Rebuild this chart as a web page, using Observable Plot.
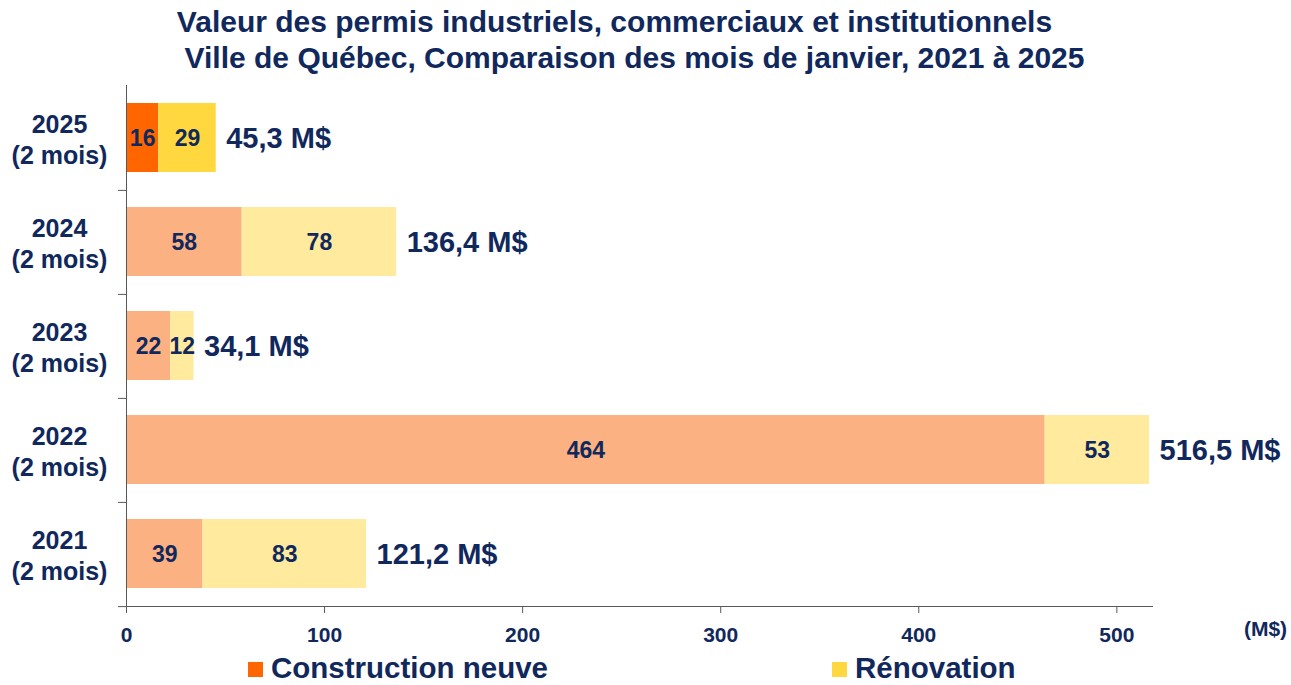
<!DOCTYPE html>
<html>
<head>
<meta charset="utf-8">
<script src="https://cdn.jsdelivr.net/npm/d3@7"></script>
<script src="https://cdn.jsdelivr.net/npm/@observablehq/plot@0.6"></script>
<style>
  html, body { margin: 0; padding: 0; background: #fff; }
  body { width: 1291px; height: 685px; overflow: hidden; font-family: "Liberation Sans", Arial, sans-serif; color: #10285c; }
  #title { height: 80px; padding-top: 4px; box-sizing: border-box; font-weight: bold; font-size: 30px; line-height: 36px; }
  #title div { text-align: center; white-space: nowrap; position: relative; }
  #legend { position: relative; height: 34px; font-weight: bold; font-size: 29.5px; }
  .item { position: absolute; top: 0; line-height: 34px; white-space: nowrap; }
  .sw { display: inline-block; width: 15px; height: 15px; margin-right: 8px; vertical-align: 1px; }
  #chart svg { display: block; }
</style>
</head>
<body>
<div id="title">
  <div style="left:-31px">Valeur des permis industriels, commerciaux et institutionnels</div>
  <div style="left:-11px">Ville de Québec, Comparaison des mois de janvier, 2021 à 2025</div>
</div>
<div id="chart"></div>
<div id="legend"></div>
<script>
// Data
const years = ["2021", "2022", "2023", "2024", "2025"];
const construction = [38.6, 463.8, 22.3, 58.4, 16.3];
const renovation = [82.6, 52.7, 11.8, 78.0, 29.0];
const seriesNames = ["Construction neuve", "Rénovation"];
const xTicks = [0, 100, 200, 300, 400, 500];
const yearSuffix = "(2 mois)";
const unitLabel = "(M$)";

// Styling
const navy = "#10285c";
const strongColors = {"Construction neuve": "#ff6600", "Rénovation": "#ffd83f"};
const lightColors = {"Construction neuve": "#fbb181", "Rénovation": "#ffea9e"};
const highlightYear = "2025";
const axisColor = "#595959";

const rows = years.flatMap((y, i) => [
  {year: y, type: seriesNames[0], value: construction[i]},
  {year: y, type: seriesNames[1], value: renovation[i]}
]);
const totals = years.map((y, i) => ({year: y, total: Math.round((construction[i] + renovation[i]) * 10) / 10}));
const fmt = v => v.toFixed(1).replace(".", ",") + " M$";

const W = 1291, H = 571, mT = 5, mB = 45, mL = 126, mR = 139;
const bw = (H - mT - mB) / years.length;

const chart = Plot.plot({
  width: W, height: H,
  marginTop: mT, marginBottom: mB, marginLeft: mL, marginRight: mR,
  style: {fontFamily: "'Liberation Sans', Arial, sans-serif", color: navy, background: "#fff"},
  x: {domain: [0, 518]},
  y: {domain: [...years].reverse(), padding: 0},
  color: {type: "identity"},
  marks: [
    Plot.barX(rows, Plot.stackX({
      x: "value", y: "year",
      fill: d => (d.year === highlightYear ? strongColors : lightColors)[d.type],
      insetTop: 17, insetBottom: 18
    })),
    Plot.text(rows, Plot.stackX({
      x: "value", y: "year", z: "type",
      text: d => String(Math.round(d.value)),
      fill: navy, fontSize: 23, fontWeight: "bold"
    })),
    Plot.text(totals, {
      x: "total", y: "year", text: d => fmt(d.total),
      textAnchor: "start", dx: 10, fill: navy, fontSize: 29, fontWeight: "bold"
    }),
    Plot.text(years, {
      y: d => d, frameAnchor: "left", dx: -67,
      text: d => d + "\n" + yearSuffix,
      textAnchor: "middle", lineHeight: 1.24,
      fill: navy, fontSize: 25, fontWeight: "bold"
    }),
    Plot.axisX({
      ticks: xTicks, tickSize: 7, tickPadding: 14,
      stroke: axisColor, fill: navy, fontSize: 21, fontWeight: "bold", label: null
    }),
    Plot.axisY({ticks: [], label: null}),
    Plot.frame({anchor: "left", stroke: axisColor}),
    Plot.frame({anchor: "bottom", stroke: axisColor}),
    Plot.ruleY(years.slice(0, 4), {y: d => d, x1: 0, x2: 0, insetLeft: -8, dy: -bw / 2, stroke: axisColor}),
    Plot.ruleY(years.slice(0, 1), {y: d => d, x1: 0, x2: 0, insetLeft: -8, dy: bw / 2, stroke: axisColor}),
    Plot.text([unitLabel], {
      frameAnchor: "bottom-right", dx: 113, dy: 29, text: d => d,
      textAnchor: "middle", fill: navy, fontSize: 21, fontWeight: "bold"
    })
  ]
});
document.getElementById("chart").appendChild(chart);

// Legend
const legend = document.getElementById("legend");
const legendPos = [248, 832];
seriesNames.forEach((name, i) => {
  const it = document.createElement("div");
  it.className = "item";
  it.style.left = legendPos[i] + "px";
  it.innerHTML = `<span class="sw" style="background:${strongColors[name]}"></span>${name}`;
  legend.appendChild(it);
});
</script>
</body>
</html>
